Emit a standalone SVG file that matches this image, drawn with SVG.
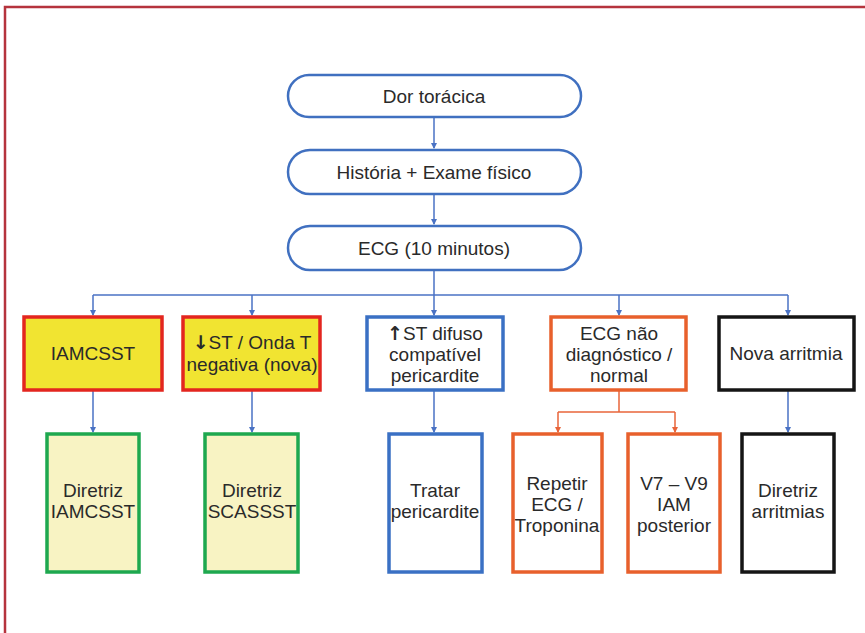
<svg xmlns="http://www.w3.org/2000/svg" width="865" height="633" viewBox="0 0 865 633">
<style>
text{font-family:"Liberation Sans",Arial,sans-serif;font-size:19px;fill:#2a2a2a;text-anchor:middle}
.ar{font-weight:bold;font-family:"DejaVu Sans","Liberation Sans",sans-serif}
.pill{fill:#fff;stroke:#4070c0;stroke-width:2.5}
.c{fill:none;stroke:#4a72c4;stroke-width:1.5}
.co{fill:none;stroke:#e8643a;stroke-width:1.5}
.red{fill:#f1e431;stroke:#e3261f;stroke-width:3.5}
.grn{fill:#f8f3c3;stroke:#1ea84f;stroke-width:3.5}
.blu{fill:#fff;stroke:#3a70c4;stroke-width:3.5}
.org{fill:#fff;stroke:#e8602c;stroke-width:3.5}
.blk{fill:#fff;stroke:#151515;stroke-width:3.5}
</style>
<defs>
<marker id="ab" markerWidth="6" markerHeight="6" refX="5" refY="3" orient="auto" markerUnits="userSpaceOnUse"><path d="M0,0 L6,3 L0,6 Z" fill="#4a72c4"/></marker>
<marker id="ao" markerWidth="6" markerHeight="6" refX="5" refY="3" orient="auto" markerUnits="userSpaceOnUse"><path d="M0,0 L6,3 L0,6 Z" fill="#e8643a"/></marker>
</defs>
<rect x="5" y="7" width="900" height="700" fill="#fff" stroke="#b5333d" stroke-width="2.5"/>
<g id="connectors">
<path class="c" d="M434,117 V148" marker-end="url(#ab)"/>
<path class="c" d="M434,194 V224" marker-end="url(#ab)"/>
<path class="c" d="M434,270 V295"/>
<path class="c" d="M93,295 H788"/>
<path class="c" d="M93,295 V315" marker-end="url(#ab)"/>
<path class="c" d="M252,295 V315" marker-end="url(#ab)"/>
<path class="c" d="M434,295 V315" marker-end="url(#ab)"/>
<path class="c" d="M619,295 V315" marker-end="url(#ab)"/>
<path class="c" d="M788,295 V315" marker-end="url(#ab)"/>
<path class="c" d="M93,390 V432" marker-end="url(#ab)"/>
<path class="c" d="M252,390 V432" marker-end="url(#ab)"/>
<path class="c" d="M434,390 V432" marker-end="url(#ab)"/>
<path class="c" d="M788,390 V432" marker-end="url(#ab)"/>
<path class="co" d="M619,390 V412"/>
<path class="co" d="M558,412 H675"/>
<path class="co" d="M558,412 V432" marker-end="url(#ao)"/>
<path class="co" d="M675,412 V432" marker-end="url(#ao)"/>
</g>
<g id="dor"><rect class="pill" x="288" y="75" width="293" height="42" rx="21"/><text x="434" y="103">Dor torácica</text></g>
<g id="historia"><rect class="pill" x="288" y="150" width="293" height="44" rx="22"/><text x="434" y="179">História + Exame físico</text></g>
<g id="ecg"><rect class="pill" x="288" y="226" width="293" height="44" rx="22"/><text x="434" y="255">ECG (10 minutos)</text></g>
<g id="iamcsst"><rect class="red" x="24" y="317" width="138" height="73"/><text x="93" y="360">IAMCSST</text></g>
<g id="st-neg"><rect class="red" x="183" y="317" width="137" height="73"/><text x="252" y="349"><tspan class="ar">↓</tspan>ST / Onda T</text><text x="252" y="371">negativa (nova)</text></g>
<g id="st-dif"><rect class="blu" x="367" y="317" width="136" height="73"/><text x="435" y="340"><tspan class="ar">↑</tspan>ST difuso</text><text x="435" y="361">compatível</text><text x="435" y="382">pericardite</text></g>
<g id="ecg-nd"><rect class="org" x="551" y="317" width="135" height="73"/><text x="619" y="340">ECG não</text><text x="619" y="361">diagnóstico /</text><text x="619" y="382">normal</text></g>
<g id="arritmia"><rect class="blk" x="719" y="317" width="135" height="73"/><text x="786" y="360">Nova arritmia</text></g>
<g id="d-iamcsst"><rect class="grn" x="47" y="434" width="92" height="138"/><text x="93" y="497">Diretriz</text><text x="93" y="518">IAMCSST</text></g>
<g id="d-scassst"><rect class="grn" x="205" y="434" width="93" height="138"/><text x="252" y="497">Diretriz</text><text x="252" y="518">SCASSST</text></g>
<g id="tratar"><rect class="blu" x="389" y="434" width="93" height="138"/><text x="435" y="497">Tratar</text><text x="435" y="518">pericardite</text></g>
<g id="repetir"><rect class="org" x="513" y="434" width="89" height="138"/><text x="557" y="490">Repetir</text><text x="557" y="511">ECG /</text><text x="557" y="532">Troponina</text></g>
<g id="v7"><rect class="org" x="628" y="434" width="92" height="138"/><text x="674" y="490">V7 – V9</text><text x="674" y="511">IAM</text><text x="674" y="532">posterior</text></g>
<g id="d-arritmias"><rect class="blk" x="742" y="434" width="92" height="138"/><text x="788" y="497">Diretriz</text><text x="788" y="518">arritmias</text></g>
</svg>
